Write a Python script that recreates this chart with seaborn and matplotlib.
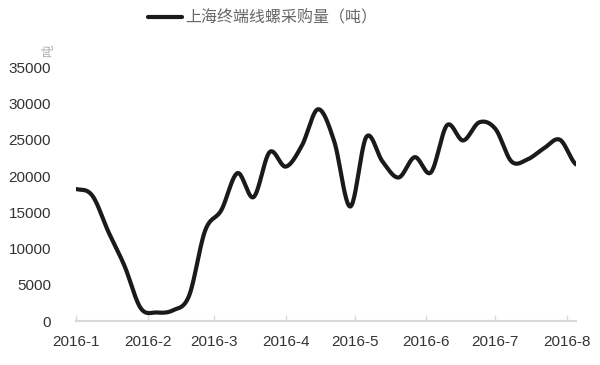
import numpy as np
import pandas as pd
import seaborn as sns
import matplotlib.pyplot as plt

# weekly data
dates = pd.date_range('2016-01-01', periods=32, freq='7D')
vals = [18200, 17300, 12300, 7600, 1800, 1200, 1500, 3500,
        12500, 15300, 20400, 17100, 23300, 21300, 24200, 29200,
        24800, 15800, 25400, 22000, 19800, 22600, 20500, 27000,
        24900, 27400, 26500, 22000, 22300, 23800, 25000, 21600]
series_name = '上海终端线螺采购量（吨）'
unit = '吨'
month_ticks = pd.date_range('2016-01-01', '2016-08-01', freq='MS')
month_labels = [f'{d.year}-{d.month}' for d in month_ticks]
yticks = [0, 5000, 10000, 15000, 20000, 25000, 30000, 35000]

sns.set_style('white')
plt.rcParams['font.family'] = ['Liberation Sans', 'DejaVu Sans']

# smoothed line like excel (catmull-rom through the weekly points)
x = dates.values.astype('datetime64[s]').astype(float)
y = np.array(vals, dtype=float)
n = len(y)
t = np.linspace(0, 1, 25)
h00 = 2*t**3 - 3*t**2 + 1
h10 = t**3 - 2*t**2 + t
h01 = -2*t**3 + 3*t**2
h11 = t**3 - t**2
xs, ys = [], []
for i in range(n - 1):
    p0 = y[max(i-1, 0)]
    p1 = y[i]
    p2 = y[i+1]
    p3 = y[min(i+2, n-1)]
    m1 = (p2 - p0) / 2
    m2 = (p3 - p1) / 2
    xs.append(x[i] + t*(x[i+1] - x[i]))
    ys.append(h00*p1 + h10*m1 + h01*p2 + h11*m2)
smooth = pd.DataFrame({'date': pd.to_datetime(np.concatenate(xs), unit='s'),
                       'value': np.concatenate(ys)})

fig = plt.figure(figsize=(6, 3.65), dpi=100)
ax = fig.add_axes([0.127, 0.12, 0.833, 0.696])
sns.lineplot(data=smooth, x='date', y='value', color='#1a1a1a', lw=3,
             label=series_name, ax=ax, sort=False)

ax.set_ylim(0, 35000)
ax.set_xlim(dates[0], dates[-1])
ax.set_yticks(yticks)
ax.set_yticklabels([str(v) for v in yticks])
ax.set_xticks(month_ticks)
ax.set_xticklabels(month_labels)
ax.set_xlabel('')
ax.set_ylabel('')
for s in ['top', 'right', 'left']:
    ax.spines[s].set_visible(False)
ax.spines['bottom'].set_color('#d9d9d9')
ax.spines['bottom'].set_linewidth(1.5)
ax.tick_params(axis='y', length=0, labelsize=11, labelcolor='#333333', pad=18)
ax.tick_params(axis='x', length=4, direction='in', color='#d9d9d9', width=1,
               labelsize=11, labelcolor='#333333', pad=10, bottom=True)

ax.text(-0.056, 1.063, unit, transform=ax.transAxes, rotation=90,
        fontsize=9, color='#aaaaaa', ha='center', va='center',
        family=['Noto Sans CJK SC', 'DejaVu Sans'])

ax.get_legend().remove()
leg = fig.legend(loc='center', bbox_to_anchor=(0.4375, 0.95), frameon=False,
                 handlelength=2.1, handletextpad=0.2,
                 prop={'family': ['Noto Sans CJK SC', 'DejaVu Sans'], 'size': 11.5})
for txt in leg.get_texts():
    txt.set_color('#666666')

fig.savefig('out.png', dpi=100)
